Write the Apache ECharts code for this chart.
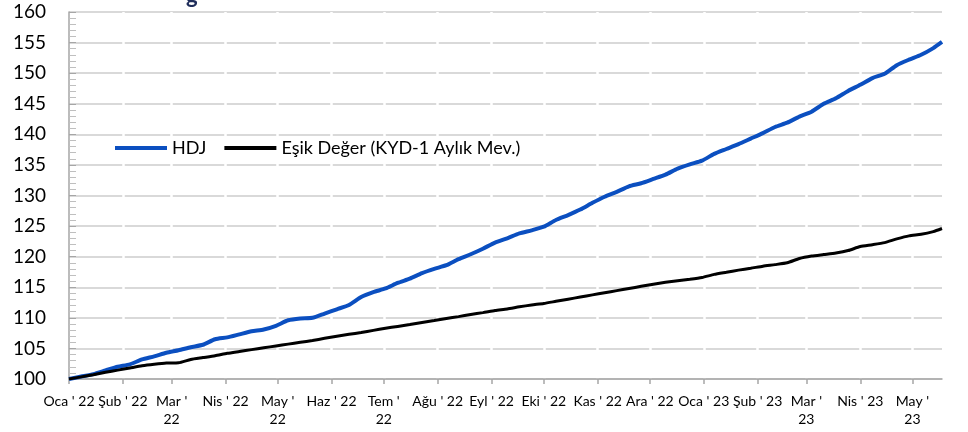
<!DOCTYPE html>
<html>
<head>
<meta charset="utf-8">
<script src="https://cdn.jsdelivr.net/npm/echarts@6/dist/echarts.min.js"></script>
<style>
  html, body { margin: 0; padding: 0; background: #fff; }
  #chart { width: 968px; height: 432px; }
</style>
</head>
<body>
<div id="chart"></div>
<script>
// aybaşı günleri (1 Oca 2022 = 0) ve etiketleri
const monthDays = [0, 31, 59, 90, 120, 151, 181, 212, 243, 273, 304, 334, 365, 396, 424, 455, 485]
const monthLabels = ["Oca ' 22", "Şub ' 22", "Mar '\n22", "Nis ' 22", "May '\n22", "Haz ' 22", "Tem '\n22",
  "Ağu ' 22", "Eyl ' 22", "Eki ' 22", "Kas ' 22", "Ara ' 22", "Oca ' 23", "Şub ' 23", "Mar '\n23",
  "Nis ' 23", "May '\n23"]
const lastDay = 502

// haftalık değerler (endeks, Oca 22 = 100); son nokta lastDay
const hdj = [100.0, 100.4, 100.8, 101.4, 102.0, 102.4, 103.2, 103.7, 104.3, 104.7,
  105.2, 105.6, 106.5, 106.8, 107.3, 107.8, 108.1, 108.7, 109.6, 109.9,
  110.0, 110.7, 111.4, 112.1, 113.4, 114.2, 114.8, 115.7, 116.4, 117.3,
  118.0, 118.6, 119.6, 120.4, 121.3, 122.3, 123.0, 123.8, 124.3, 124.9,
  126.0, 126.8, 127.7, 128.8, 129.8, 130.6, 131.5, 132.0, 132.7, 133.4,
  134.4, 135.1, 135.7, 136.8, 137.6, 138.4, 139.3, 140.2, 141.2, 141.9,
  142.9, 143.7, 145.0, 145.9, 147.1, 148.1, 149.2, 149.9, 151.3, 152.2,
  153.0, 154.1, 155.1]
const esik = [100.0, 100.35, 100.7, 101.1, 101.45, 101.8, 102.15, 102.4, 102.6, 102.65,
  103.2, 103.5, 103.8, 104.2, 104.5, 104.8, 105.1, 105.4, 105.7, 106.0,
  106.3, 106.65, 107.0, 107.3, 107.6, 107.95, 108.3, 108.6, 108.9, 109.25,
  109.55, 109.9, 110.2, 110.55, 110.85, 111.2, 111.45, 111.8, 112.1, 112.35,
  112.7, 113.05, 113.4, 113.75, 114.1, 114.45, 114.8, 115.15, 115.5, 115.8,
  116.05, 116.3, 116.6, 117.1, 117.45, 117.8, 118.1, 118.45, 118.7, 119.0,
  119.7, 120.1, 120.35, 120.6, 121.0, 121.65, 121.95, 122.3, 122.9, 123.4,
  123.65, 124.1, 124.6]

const yTicks = { min: 100, max: 160, step: 5 }

function toPairs (vals) {
  return vals.map((v, i) => [i === vals.length - 1 ? lastDay : i * 7, v])
}

const chart = echarts.init(document.getElementById('chart'))
const font = 'Lato, "Noto Sans", sans-serif'

chart.setOption({
  animation: false,
  textStyle: { fontFamily: font },
  grid: { left: 69, right: 26, top: 12, bottom: 53 },
  graphic: [{
    type: 'text', left: 186, top: -15,
    style: { text: 'g', font: 'bold 22px ' + font, fill: '#1f2d5a' }
  }],
  legend: {
    left: 110,
    top: 134,
    itemWidth: 52,
    itemHeight: 4,
    itemGap: 18,
    textStyle: { fontSize: 18, color: '#000', fontFamily: font },
    data: [{ name: 'HDJ', icon: 'rect' }, { name: 'Eşik Değer (KYD-1 Aylık Mev.)', icon: 'rect' }]
  },
  xAxis: {
    type: 'value',
    min: 0,
    max: lastDay,
    z: 3,
    axisLine: { lineStyle: { color: '#a6a6a6', width: 1.5 } },
    axisTick: { show: true, customValues: monthDays, length: 5, lineStyle: { color: '#a6a6a6', width: 1.5 } },
    axisLabel: {
      customValues: monthDays,
      formatter: v => monthLabels[monthDays.indexOf(v)],
      color: '#000',
      fontSize: 14,
      lineHeight: 18,
      margin: 13
    },
    splitLine: { show: false }
  },
  yAxis: {
    type: 'value',
    min: yTicks.min,
    max: yTicks.max,
    interval: yTicks.step,
    z: 0,
    axisLine: { show: true, lineStyle: { color: '#a6a6a6', width: 1.5 } },
    axisTick: { show: true, inside: true, length: 7, lineStyle: { color: '#a6a6a6' } },
    minorTick: { show: true, splitNumber: 5, length: 7, lineStyle: { color: '#bfbfbf' } },
    axisLabel: { color: '#000', fontSize: 19, margin: 23 },
    splitLine: { show: true, lineStyle: { color: '#d9d9d9', width: 2 } }
  },
  series: [
    {
      // ay sınırlarında yatay ızgarayı kesen beyaz çizgiler
      name: 'ayraç',
      type: 'line',
      data: [],
      z: 1,
      silent: true,
      markLine: {
        z: 1,
        silent: true,
        symbol: 'none',
        label: { show: false },
        lineStyle: { color: '#fff', width: 2.5, type: 'solid' },
        data: monthDays.slice(1).map(d => ({ xAxis: d }))
      }
    },
    {
      name: 'HDJ',
      type: 'line',
      showSymbol: false,
      smooth: 0.2,
      z: 4,
      color: '#0b4fc0',
      lineStyle: { width: 4 },
      data: toPairs(hdj)
    },
    {
      name: 'Eşik Değer (KYD-1 Aylık Mev.)',
      type: 'line',
      showSymbol: false,
      smooth: 0.2,
      z: 4,
      color: '#000',
      lineStyle: { width: 3 },
      data: toPairs(esik)
    }
  ]
})
</script>
</body>
</html>
